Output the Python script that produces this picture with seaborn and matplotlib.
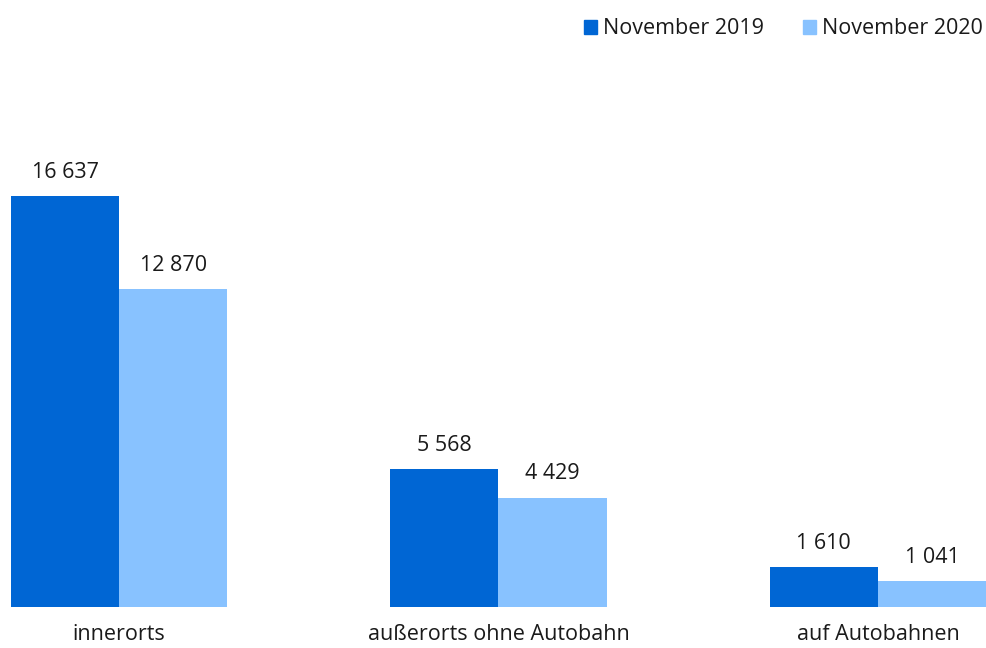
import pandas as pd
import matplotlib.pyplot as plt
import seaborn as sns

# Verunglückte nach Ortslage
categories = ["innerorts", "außerorts ohne Autobahn", "auf Autobahnen"]
values_2019 = [16637, 5568, 1610]
values_2020 = [12870, 4429, 1041]
series = ["November 2019", "November 2020"]
colors = ["#0066d4", "#88c2ff"]


def fmt(v):
    return f"{int(round(v)):,}".replace(",", " ")


def plot_chart():
    df = pd.DataFrame({
        "Ortslage": categories * 2,
        "Wert": values_2019 + values_2020,
        "Monat": [series[0]] * 3 + [series[1]] * 3,
    })

    sns.set_style("white")
    plt.rcParams["font.family"] = ["Open Sans", "DejaVu Sans"]

    fig = plt.figure(figsize=(9.86, 6.48), dpi=100)
    ax = fig.add_axes([11 / 986, 41 / 648, 975 / 986, 607 / 648])

    sns.barplot(data=df, x="Ortslage", y="Wert", hue="Monat",
                palette=colors, width=0.57, gap=0, saturation=1,
                linewidth=0, ax=ax, legend=False)

    for cont in ax.containers:
        ax.bar_label(cont, labels=[fmt(v) for v in cont.datavalues],
                     padding=9.5, fontsize=15.5, color="#1a1a1a")

    ax.set_xlim(-0.285, 2.285)
    ax.set_ylim(0, 24575)
    ax.set_xlabel("")
    ax.set_ylabel("")
    ax.set_yticks([])
    ax.tick_params(axis="x", length=0, pad=12, labelsize=15.5, labelcolor="#1a1a1a")
    sns.despine(ax=ax, left=True, bottom=True)

    handles = [plt.Rectangle((0, 0), 1, 1, color=c) for c in colors]
    fig.legend(handles, series, loc="upper right", bbox_to_anchor=(1.006, 0.985),
               ncol=2, frameon=False, fontsize=15.5, handlelength=0.6,
               handleheight=0.6, handletextpad=0.3, columnspacing=1.8,
               borderaxespad=0.0, labelcolor="#1a1a1a")

    fig.savefig("out.png", dpi=100)


if __name__ == "__main__":
    plot_chart()
